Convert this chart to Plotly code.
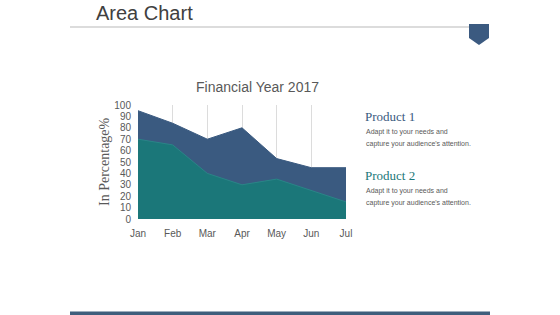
import plotly.graph_objects as go

months = ["Jan", "Feb", "Mar", "Apr", "May", "Jun", "Jul"]
product1 = [95, 84, 70, 80, 53, 45, 45]
product2 = [70, 65, 40, 30, 35, 25, 15]
y_ticks = [0, 10, 20, 30, 40, 50, 60, 70, 80, 90, 100]

W, H = 560, 315
def px(x):
    return x / W
def py(y):
    return 1 - y / H

C1 = "#3a5a80"
C2 = "#1b7779"
SANS = "Liberation Sans, Arial, sans-serif"
SERIF = "Liberation Serif, Times New Roman, serif"

fig = go.Figure()
fig.add_trace(go.Scatter(x=months, y=product1, name="Product 1", mode="lines",
                         fill="tozeroy", fillcolor=C1, line=dict(color=C1, width=1)))
fig.add_trace(go.Scatter(x=months, y=product2, name="Product 2", mode="lines",
                         fill="tozeroy", fillcolor=C2, line=dict(color="#2a8587", width=1)))

fig.update_layout(
    width=W, height=H,
    margin=dict(l=0, r=0, t=0, b=0, autoexpand=False),
    paper_bgcolor="white", plot_bgcolor="white",
    showlegend=False,
    xaxis=dict(domain=[px(138), px(346)], range=[0, 6], showgrid=True, automargin=False,
               gridcolor="#dcdcdc", gridwidth=1, zeroline=False, showline=False,
               ticks="outside", ticklen=5, tickcolor="rgba(0,0,0,0)",
               tickfont=dict(family=SANS, size=10, color="#595959"),
               layer="below traces"),
    yaxis=dict(domain=[py(219), py(105)], range=[0, 100], tickvals=y_ticks, automargin=False,
               showgrid=False, zeroline=False, showline=False,
               ticks="outside", ticklen=4, tickcolor="rgba(0,0,0,0)",
               tickfont=dict(family=SANS, size=10, color="#595959")),
    annotations=[
        dict(text="In Percentage%", x=px(105), y=py(162), xref="paper", yref="paper",
             showarrow=False, textangle=-90, font=dict(family=SERIF, size=14, color="#595959"),
             xanchor="center", yanchor="middle"),
        dict(text="Financial Year 2017", x=px(257), y=py(87), xref="paper", yref="paper",
             showarrow=False, font=dict(family=SANS, size=14, color="#595959"),
             xanchor="center", yanchor="middle"),
        dict(text="Area Chart", x=px(94), y=py(13), xref="paper", yref="paper",
             showarrow=False, font=dict(family=SANS, size=20, color="#404040"),
             xanchor="left", yanchor="middle"),
        dict(text="Product 1", x=px(363), y=py(116), xref="paper", yref="paper",
             showarrow=False, font=dict(family=SERIF, size=13, color=C1),
             xanchor="left", yanchor="middle"),
        dict(text="Adapt it to your needs and", x=px(364), y=py(132), xref="paper", yref="paper",
             showarrow=False, font=dict(family=SANS, size=7, color="#595959"),
             xanchor="left", yanchor="middle"),
        dict(text="capture your audience's attention.", x=px(364), y=py(144), xref="paper", yref="paper",
             showarrow=False, font=dict(family=SANS, size=7, color="#595959"),
             xanchor="left", yanchor="middle"),
        dict(text="Product 2", x=px(363), y=py(175), xref="paper", yref="paper",
             showarrow=False, font=dict(family=SERIF, size=13, color=C2),
             xanchor="left", yanchor="middle"),
        dict(text="Adapt it to your needs and", x=px(364), y=py(191), xref="paper", yref="paper",
             showarrow=False, font=dict(family=SANS, size=7, color="#595959"),
             xanchor="left", yanchor="middle"),
        dict(text="capture your audience's attention.", x=px(364), y=py(203), xref="paper", yref="paper",
             showarrow=False, font=dict(family=SANS, size=7, color="#595959"),
             xanchor="left", yanchor="middle"),
    ],
    shapes=[
        dict(type="line", xref="paper", yref="paper", x0=px(70), x1=px(470), y0=py(27), y1=py(27),
             line=dict(color="#d0d0d0", width=1.5)),
        dict(type="path", xref="paper", yref="paper",
             path=f"M {px(469)},{py(24)} L {px(489)},{py(24)} L {px(489)},{py(38)} "
                  f"L {px(479)},{py(45)} L {px(469)},{py(38)} Z",
             fillcolor="#3b5a80", line=dict(width=0)),
        dict(type="rect", xref="paper", yref="paper", x0=px(70), x1=px(490), y0=py(315), y1=py(311.5),
             fillcolor="#3f5e7c", line=dict(width=0)),
    ],
)

fig.write_html("out.html",
               post_script="document.body.style.margin='0';document.body.style.overflow='hidden';")
